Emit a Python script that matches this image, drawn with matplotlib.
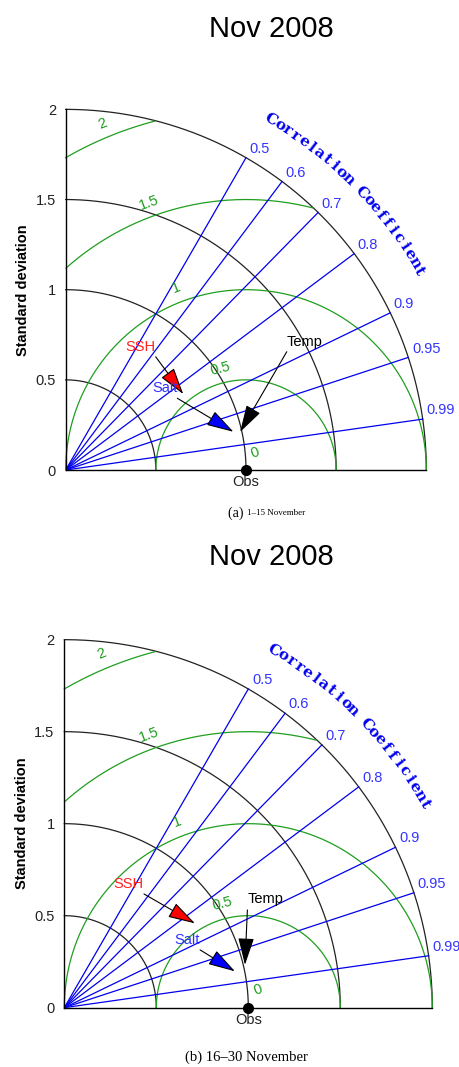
import numpy as np
import matplotlib
matplotlib.use('Agg')
import matplotlib.pyplot as plt

plt.rcParams['font.family'] = ['Liberation Sans', 'DejaVu Sans']

# chart values
corr_ticks = [0.5, 0.6, 0.7, 0.8, 0.9, 0.95, 0.99]
std_rings = [0.5, 1.0, 1.5, 2.0]
rms_rings = [0, 0.5, 1.0, 1.5, 2.0]
std_ticks = [0, 0.5, 1, 1.5, 2]
obs_std = 1.0

models = ['SSH', 'Salt', 'Temp']
model_colors = ['red', 'blue', 'black']
label_colors = ['#ff2020', '#3030ff', 'black']

std_a = [0.776, 0.954, 0.990]
corr_a = [0.840, 0.975, 0.977]
std_b = [0.845, 0.948, 1.009]
corr_b = [0.840, 0.978, 0.973]

titles = ['Nov 2008', 'Nov 2008']

# layout: arrow tails and label centres (data coords)
tails_a = [(0.499, 0.628), (0.619, 0.398), (1.226, 0.656)]
labels_a = [(0.412, 0.684), (0.551, 0.455), (1.327, 0.708)]
tails_b = [(0.433, 0.618), (0.738, 0.314), (0.995, 0.531)]
labels_b = [(0.348, 0.671), (0.665, 0.368), (1.095, 0.589)]

# where the rms labels sit (angle around obs, degrees)
rms_lab_ang = [63, 104, 111, 110, 112.5]

GREEN = '#1f9e1f'
BLUE = '#0000ee'
RMAX = 2.0


def taylor(ax, std, corr, tails, labs):
    ax.set_xlim(0, RMAX)
    ax.set_ylim(0, RMAX)
    for s in ['top', 'right']:
        ax.spines[s].set_visible(False)
    for s in ['left', 'bottom']:
        ax.spines[s].set_linewidth(1.0)
    ax.set_xticks([])
    ax.set_yticks(std_ticks)
    ax.set_yticklabels(['%g' % v for v in std_ticks])
    ax.tick_params(axis='y', length=0, pad=7, labelsize=10.5, labelcolor='#222222')
    ax.set_ylabel('Standard deviation', fontsize=10.5, fontweight='bold', labelpad=4)

    t = np.linspace(0, np.pi / 2, 200)
    # std arcs
    for r in std_rings:
        ax.plot(r * np.cos(t), r * np.sin(t), color='#222222', lw=0.9, clip_on=False)

    # rms arcs around obs
    tt = np.linspace(0, np.pi, 400)
    for i, r in enumerate(rms_rings):
        if r > 0:
            x = obs_std + r * np.cos(tt)
            y = r * np.sin(tt)
            bad = (x < 0) | (np.hypot(x, y) > RMAX)
            x[bad] = np.nan
            y[bad] = np.nan
            ax.plot(x, y, color=GREEN, lw=0.9, clip_on=False)
        a = np.deg2rad(rms_lab_ang[i])
        d = r + 0.08 if r > 0 else 0.11
        ax.text(obs_std + d * np.cos(a), d * np.sin(a), '%g' % r, color=GREEN,
                fontsize=10.5, rotation=rms_lab_ang[i] - 90 if r > 0 else 20,
                ha='center', va='center')

    # correlation rays
    for c in corr_ticks:
        a = np.arccos(c)
        ax.plot([0, RMAX * np.cos(a)], [0, RMAX * np.sin(a)], color=BLUE, lw=0.9)
        ax.text(RMAX * np.cos(a) + 0.02, RMAX * np.sin(a) + 0.01, '%g' % c,
                color='#3434ff', fontsize=10.5, ha='left', va='bottom', clip_on=False)

    # curved axis title
    word = 'Correlation Coefficient'
    angs = np.linspace(59.6, 29.4, len(word))
    for ch, ang in zip(word, angs):
        a = np.deg2rad(ang)
        ax.text(2.25 * np.cos(a), 2.25 * np.sin(a), ch, color=BLUE, fontsize=11,
                fontweight='heavy', family='DejaVu Serif', rotation=ang - 90,
                ha='center', va='center', clip_on=False)

    # obs point
    ax.plot([obs_std], [0], 'o', color='black', ms=7, clip_on=False, zorder=5)
    ax.text(obs_std, -0.03, 'Obs', fontsize=10.5, ha='center', va='top', color='#222222')

    # models
    for i, m in enumerate(models):
        a = np.arccos(corr[i])
        tip = (std[i] * np.cos(a), std[i] * np.sin(a))
        ax.annotate('', xy=tip, xytext=tails[i], xycoords='data', textcoords='data',
                    arrowprops=dict(arrowstyle='-|>,head_length=1.7,head_width=0.5',
                                    mutation_scale=10, fc=model_colors[i], ec='black',
                                    lw=0.8, shrinkA=0, shrinkB=0), zorder=6)
        ax.text(labs[i][0], labs[i][1], m, color=label_colors[i], fontsize=10.5,
                ha='center', va='center', zorder=7)


fig = plt.figure(figsize=(4.6, 10.67), dpi=100)

ax1 = fig.add_axes([0.1428, 0.5595, 0.784, 0.338])
taylor(ax1, std_a, corr_a, tails_a, labels_a)
ax2 = fig.add_axes([0.1398, 0.0556, 0.800, 0.3449])
taylor(ax2, std_b, corr_b, tails_b, labels_b)

fig.text(0.59, 1 - 29 / 1067, titles[0], fontsize=21, ha='center', va='center')
fig.text(0.59, 1 - 557 / 1067, titles[1], fontsize=21, ha='center', va='center')

fig.text(0.536, 1 - 513 / 1067, '(a) ', fontsize=10, family='Liberation Serif',
         ha='right', va='center')
fig.text(0.536, 1 - 513 / 1067, '1\u201315 November', fontsize=6.5,
         family='Liberation Serif', ha='left', va='center')
fig.text(0.536, 1 - 1057 / 1067, '(b) 16\u201330 November', fontsize=10.5,
         family='Liberation Serif', ha='center', va='center')

fig.savefig('out.png', dpi=100)
